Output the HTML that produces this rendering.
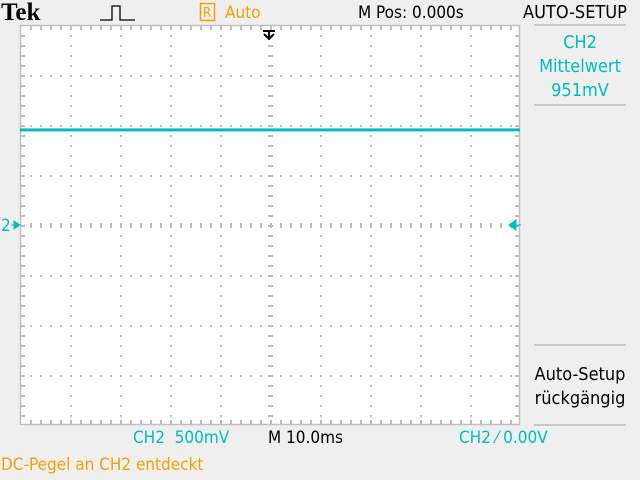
<!DOCTYPE html>
<html><head><meta charset="utf-8"><style>
body{margin:0;width:640px;height:480px;background:#efefef;overflow:hidden;font-family:"DejaVu Sans Condensed","Liberation Sans",sans-serif;}
svg{position:absolute;left:0;top:0}
text{font-family:"DejaVu Sans Condensed","Liberation Sans",sans-serif;font-size:17px}
</style></head><body>
<svg width="640" height="480">
<rect x="20" y="25" width="500" height="400" fill="#fff"/>
<g id="grid"></g>
<rect x="20.5" y="25.5" width="499" height="399" fill="none" stroke="#c0c0c0" stroke-width="1.5"/>
<g id="trace"></g>
<text x="1" y="20" style="font-family:'Liberation Serif',serif;font-size:25px;font-weight:bold" fill="#000">Tek</text>
<path d="M100 20 H112 V6 H120 V20 H135" fill="none" stroke="#000" stroke-width="1.3"/>
<rect x="200.5" y="3.5" width="14" height="17" fill="none" stroke="#f5a000" stroke-width="1.5"/>
<text x="203" y="17" style="font-size:13px" fill="#f5a000">R</text>
<text x="225" y="18" fill="#f5a000">Auto</text>
<text x="358" y="18" fill="#000">M Pos: 0.000s</text>
<text x="523" y="18" fill="#000" style="font-size:18px">AUTO-SETUP</text>
<line x1="534" y1="25" x2="626" y2="25" stroke="#c8c8c8" stroke-width="2"/>
<line x1="534" y1="105" x2="626" y2="105" stroke="#c8c8c8" stroke-width="2"/>
<line x1="534" y1="345" x2="626" y2="345" stroke="#c8c8c8" stroke-width="2"/>
<line x1="534" y1="425" x2="626" y2="425" stroke="#c8c8c8" stroke-width="2"/>
<g fill="#00bebe" text-anchor="middle">
<text x="580" y="48" style="font-size:18px">CH2</text><text x="580" y="72" style="font-size:18px">Mittelwert</text><text x="580" y="96" style="font-size:18px">951mV</text></g>
<g fill="#000" text-anchor="middle">
<text x="580" y="380" style="font-size:18px">Auto-Setup</text><text x="580" y="404" style="font-size:18px">rückgängig</text></g>
<path d="M263 31 H275 M269 31 V38 M264 34 L269 39 L274 34" stroke="#000" stroke-width="2" fill="none"/>
<text x="1" y="231" fill="#00bebe">2</text>
<path d="M11 225 H16 M14 221 L20 225 L14 229 Z" stroke="#00bebe" fill="#00bebe"/>
<path d="M509 225 L516 220 V230 Z M516 225 H521" stroke="#00bebe" fill="#00bebe"/>
<text x="133" y="443" fill="#00bebe" xml:space="preserve">CH2  500mV</text>
<text x="268" y="443" fill="#000">M 10.0ms</text>
<text x="459" y="443" fill="#00bebe" xml:space="preserve">CH2 ⁄ 0.00V</text>
<text x="1" y="470" fill="#f5a000">DC-Pegel an CH2 entdeckt</text>
</svg>
<script>
const voltsPerDiv=[500];
const meanValue=[951];
const groundDiv=[0];
const X0=20,Y0=25,DIV=50,CX=270,CY=225;
function yScale(mv){return CY-(mv/voltsPerDiv[0])*DIV;}
const g=document.getElementById('grid');
const ns='http://www.w3.org/2000/svg';
function r(x,y,w,h,c){const e=document.createElementNS(ns,'rect');e.setAttribute('x',x);e.setAttribute('y',y);e.setAttribute('width',w);e.setAttribute('height',h);e.setAttribute('fill',c||'#bcbcbc');g.appendChild(e);}
for(let i=1;i<10;i++){const x=X0+i*DIV;for(let y=Y0+10;y<Y0+400;y+=10){if(i===5)r(x-2,y,5,2);else r(x,y,2,2);}}
for(let j=1;j<8;j++){const y=Y0+j*DIV;for(let x=X0+10;x<X0+500;x+=10){if(j===4)r(x,y-2,2,5);else r(x,y,2,2);}}
for(let x=X0+10;x<X0+500;x+=10){r(x,Y0+1,2,4);r(x,Y0+395,2,4);}
for(let y=Y0+10;y<Y0+400;y+=10){r(X0+1,y,4,2);r(X0+495,y,4,2);}
const t=document.getElementById('trace');
const line=document.createElementNS(ns,'rect');


const yy=yScale(meanValue[0]);
line.setAttribute('x',X0);line.setAttribute('y',yy-1.5);line.setAttribute('width',500);line.setAttribute('height',3);line.setAttribute('fill','#00bebe');
t.appendChild(line);
</script>
</body></html>
